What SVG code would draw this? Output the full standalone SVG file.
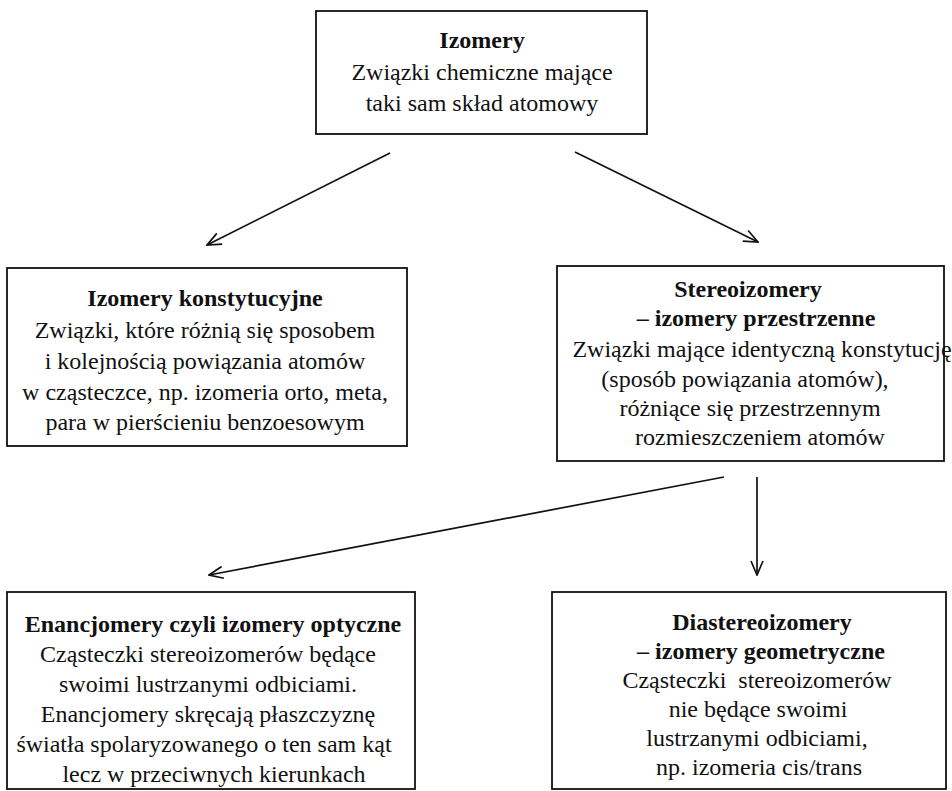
<svg xmlns="http://www.w3.org/2000/svg" width="952" height="791" viewBox="0 0 952 791">
<style>
.box{fill:#fff;stroke:#111;stroke-width:1.8}
text{font-family:"Liberation Serif","Times New Roman",serif;font-size:24px;fill:#111;text-anchor:middle}
.t{font-weight:bold}
.c{stroke:#111;stroke-width:1.7;fill:none}
</style>
<defs>
<marker id="ah" viewBox="0 0 16 14" refX="15" refY="7" markerWidth="16" markerHeight="14" markerUnits="userSpaceOnUse" orient="auto">
<path d="M1,1 L15,7 L1,13" fill="none" stroke="#111" stroke-width="1.7"/>
</marker>
</defs>
<rect width="952" height="791" fill="#fff"/>
<g id="izomery">
<rect class="box" x="316" y="11" width="331" height="123"/>
<text class="t" x="482" y="48">Izomery</text>
<text x="482" y="80">Związki chemiczne mające</text>
<text x="482" y="111">taki sam skład atomowy</text>
</g>
<g id="konstytucyjne">
<rect class="box" x="7" y="268" width="400" height="178"/>
<text class="t" x="205" y="306">Izomery konstytucyjne</text>
<text x="205" y="338">Związki, które różnią się sposobem</text>
<text x="205" y="369">i kolejnością powiązania atomów</text>
<text x="205" y="400">w cząsteczce, np. izomeria orto, meta,</text>
<text x="205" y="430">para w pierścieniu benzoesowym</text>
</g>
<g id="stereoizomery">
<rect class="box" x="557" y="266" width="387" height="195"/>
<text class="t" x="748" y="297">Stereoizomery</text>
<text class="t" x="756" y="326">– izomery przestrzenne</text>
<text x="762" y="357">Związki mające identyczną konstytucję</text>
<text x="745" y="387">(sposób powiązania atomów),</text>
<text x="750" y="416">różniące się przestrzennym</text>
<text x="760" y="445">rozmieszczeniem atomów</text>
</g>
<g id="enancjomery">
<rect class="box" x="7" y="592" width="408" height="197"/>
<text class="t" x="213" y="632">Enancjomery czyli izomery optyczne</text>
<text x="208" y="662">Cząsteczki stereoizomerów będące</text>
<text x="208" y="692">swoimi lustrzanymi odbiciami.</text>
<text x="208" y="722">Enancjomery skręcają płaszczyznę</text>
<text x="204" y="752">światła spolaryzowanego o ten sam kąt</text>
<text x="214" y="782">lecz w przeciwnych kierunkach</text>
</g>
<g id="diastereoizomery">
<rect class="box" x="552" y="592" width="394" height="197"/>
<text class="t" x="762" y="630">Diastereoizomery</text>
<text class="t" x="761" y="659">– izomery geometryczne</text>
<text x="757" y="688" xml:space="preserve">Cząsteczki  stereoizomerów</text>
<text x="758" y="717">nie będące swoimi</text>
<text x="757" y="746">lustrzanymi odbiciami,</text>
<text x="759" y="775">np. izomeria cis/trans</text>
</g>
<g id="connectors">
<path class="c" d="M390,153 L207,245" marker-end="url(#ah)"/>
<path class="c" d="M575,152 L758,242" marker-end="url(#ah)"/>
<path class="c" d="M724,477 L209,575" marker-end="url(#ah)"/>
<path class="c" d="M757,477 L757,575" marker-end="url(#ah)"/>
</g>
</svg>
